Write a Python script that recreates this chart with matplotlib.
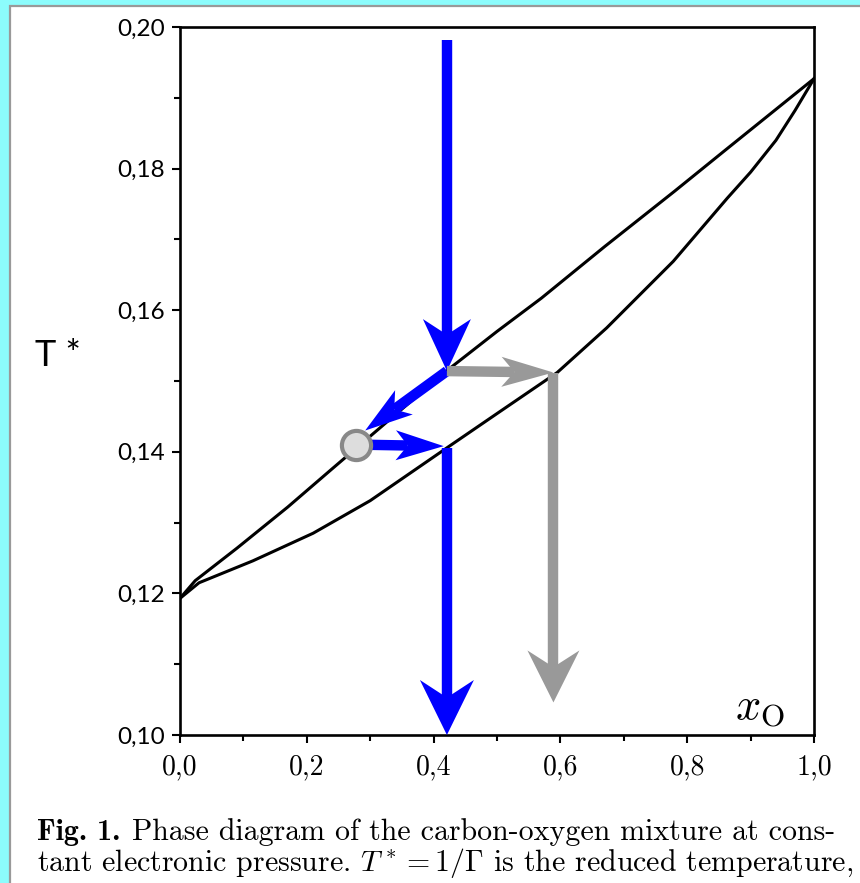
import numpy as np
import matplotlib
matplotlib.use('Agg')
import matplotlib.pyplot as plt
from matplotlib.patches import Polygon, Rectangle

plt.rcParams['mathtext.fontset'] = 'cm'

# liquidus (upper) and solidus (lower) curves
x_liq = [0.0, 0.024, 0.09, 0.17, 0.24, 0.30, 0.42, 0.50, 0.57, 0.67, 0.78, 0.86, 1.0]
t_liq = [0.1193, 0.1218, 0.1264, 0.1322, 0.1376, 0.1422, 0.1514, 0.1570, 0.1617, 0.1690, 0.1768, 0.1826, 0.1927]

x_sol = [0.0, 0.03, 0.115, 0.21, 0.30, 0.42, 0.50, 0.595, 0.673, 0.778, 0.863, 0.90, 0.94, 0.97, 1.0]
t_sol = [0.1193, 0.1215, 0.1246, 0.1285, 0.1331, 0.1405, 0.1454, 0.1512, 0.1575, 0.1669, 0.1758, 0.1795, 0.1840, 0.1882, 0.1927]

# arrow paths (x_O, T*), head at the last point
blue_down = ([0.421, 0.421], [0.1982, 0.1514])
blue_diag = ([0.421, 0.292], [0.1514, 0.1430])
blue_right = ([0.29, 0.416], [0.1410, 0.1408])
blue_down2 = ([0.421, 0.421], [0.1406, 0.1000])
gray_right = ([0.421, 0.589], [0.1514, 0.1512])
gray_down = ([0.589, 0.589], [0.1512, 0.1046])
dot = (0.277, 0.1410)

x_ticks = [0.0, 0.2, 0.4, 0.6, 0.8, 1.0]
x_labels = ['0,0', '0,2', '0,4', '0,6', '0,8', '1,0']
y_ticks = [0.10, 0.12, 0.14, 0.16, 0.18, 0.20]
y_labels = ['0,10', '0,12', '0,14', '0,16', '0,18', '0,20']

fig = plt.figure(figsize=(8.6, 8.83), dpi=100, facecolor='#8cfcfc')
fig.add_artist(Rectangle((10 / 860, -0.01), 1.0, 1 - 6 / 883 + 0.01, transform=fig.transFigure,
                         facecolor='white', edgecolor='#999999', lw=1.6, zorder=-5))

ax = fig.add_axes([180 / 860, 148 / 883, 634 / 860, 708 / 883])
ax.set_xlim(0, 1)
ax.set_ylim(0.10, 0.20)
ax.patch.set_alpha(0)

ax.plot(x_liq, t_liq, color='black', lw=2.2, zorder=2)
ax.plot(x_sol, t_sol, color='black', lw=2.2, zorder=2)


def arrow(xs, ys, color, lw, head_len, head_w, notch):
    # head built in pixel space so it keeps its shape
    p = ax.transData.transform(np.column_stack([xs, ys]))
    tip, prev = p[-1], p[-2]
    d = (tip - prev) / np.hypot(*(tip - prev))
    n = np.array([-d[1], d[0]])
    back = tip - d * head_len
    mid = tip - d * head_len * (1 - notch)
    poly = np.array([tip, back + n * head_w / 2, mid, back - n * head_w / 2])
    poly = ax.transData.inverted().transform(poly)
    shaft = ax.transData.inverted().transform(np.vstack([p[:-1], mid]))
    ax.plot(shaft[:, 0], shaft[:, 1], color=color, lw=lw, solid_capstyle='butt',
            zorder=3, clip_on=False)
    ax.add_patch(Polygon(poly, closed=True, facecolor=color, edgecolor='none',
                         zorder=3, clip_on=False))


blue = '#0000ff'
gray = '#999999'
arrow(*blue_down, blue, 7.5, 52, 48, 0.3)
arrow(*blue_diag, blue, 7.5, 48, 30, 0.25)
arrow(*blue_right, blue, 7.5, 48, 30, 0.25)
arrow(*blue_down2, blue, 7.5, 55, 54, 0.32)
arrow(*gray_right, gray, 7.5, 52, 30, 0.25)
arrow(*gray_down, gray, 7.5, 52, 52, 0.32)

ax.plot(*dot, 'o', ms=21, mfc='#dddddd', mec='#888888', mew=3, zorder=4)

ax.set_xticks(x_ticks)
ax.set_xticklabels(x_labels, family='cmr10', fontsize=20)
ax.set_xticks(np.arange(0.1, 1.0, 0.2), minor=True)
ax.set_yticks(y_ticks)
ax.set_yticklabels(y_labels, family='Lato', fontsize=17.5)
ax.set_yticks(np.arange(0.11, 0.20, 0.02), minor=True)
ax.tick_params(which='major', length=6, width=1.5)
ax.tick_params(axis='x', which='major', pad=8)
ax.tick_params(axis='y', which='major', pad=5)
ax.tick_params(which='minor', length=4, width=1.5)
for s in ax.spines.values():
    s.set_linewidth(1.9)

fig.text(35 / 860, 1 - 355 / 883, 'T *', family='Lato', fontsize=26, va='center')
ax.text(0.875, 0.1022, r'$x_{\rm O}$', fontsize=32, va='baseline')

# caption
renderer = fig.canvas.get_renderer()
cap = fig.text(37 / 860, 1 - 840 / 883, 'Fig. 1.', family='cmb10', fontsize=21.5,
               va='baseline')
bb = cap.get_window_extent(renderer)
fig.text((bb.x1 + 12) / 860, 1 - 840 / 883,
         'Phase diagram of the carbon-oxygen mixture at cons-',
         family='cmr10', fontsize=21.5, va='baseline')
fig.text(37 / 860, 1 - 871 / 883,
         r'tant electronic pressure. $T^* = 1/\Gamma$ is the reduced temperature,',
         family='cmr10', fontsize=21.5, va='baseline')

fig.savefig('out.png', dpi=100, facecolor=fig.get_facecolor())
